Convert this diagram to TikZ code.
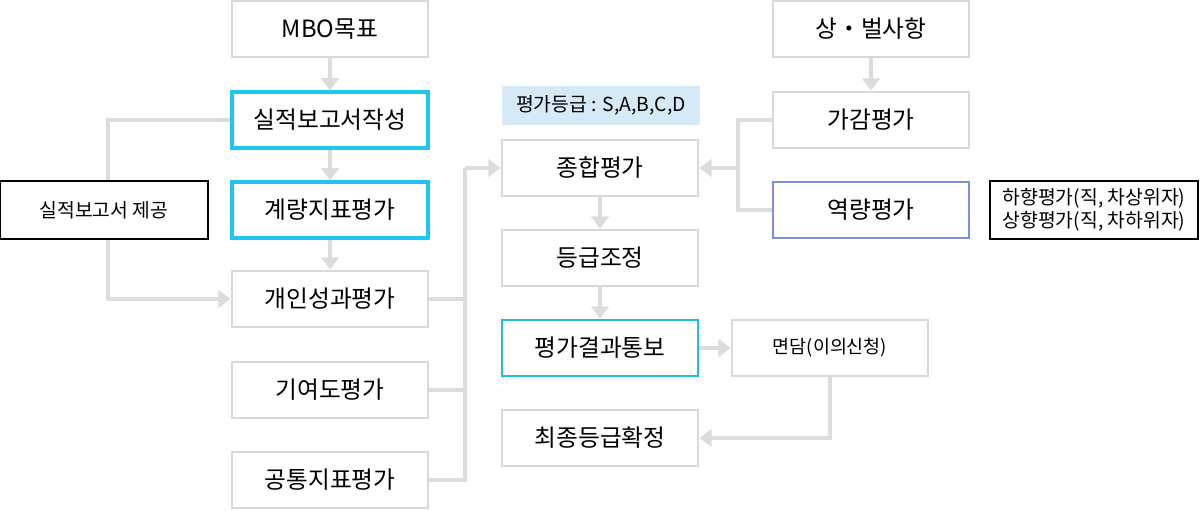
\documentclass[tikz,border=0pt]{standalone}
\usepackage{fontspec}
\setmainfont{Noto Sans CJK KR}
\usetikzlibrary{arrows.meta,positioning}
\definecolor{boxgray}{HTML}{D9D9D9}
\definecolor{linegray}{HTML}{DCDCDC}
\definecolor{skyline}{HTML}{1EC6F0}
\definecolor{tealline}{HTML}{22C0D2}
\definecolor{violetline}{HTML}{7D8FD8}
\definecolor{gradefill}{HTML}{D5E9F6}
\tikzset{
  stage/.style={
    % The shape:
    rectangle, minimum width=3.92cm, minimum height=1.12cm,
    % The border:
    line width=1.6pt, draw=boxgray, fill=white,
    font=\fontsize{13.5}{15}\selectfont},
  hilite/.style={stage, draw=skyline, line width=1.8pt},
  memo/.style={rectangle, minimum width=4.16cm, minimum height=1.16cm,
    draw=black, line width=0.6pt, fill=white, align=center,
    font=\fontsize{11}{13}\selectfont},
  line/.style={draw=linegray, line width=2.2pt,
    -{Triangle[width=10pt,length=7pt]}},
  plain/.style={draw=linegray, line width=2.2pt}
}
\begin{document}
\begin{tikzpicture}[x=0.2mm,y=-0.2mm]
\useasboundingbox (0,0) rectangle (1200,510);
% left column
\node [stage] (mbo) at (330,29) {MBO목표};
\node [hilite] (report) at (330,120) {실적보고서작성};
\node [hilite] (quant) at (330,210) {계량지표평가};
\node [stage] (indiv) at (330,299) {개인성과평가};
\node [stage] (contrib) at (330,390) {기여도평가};
\node [stage] (common) at (330,480) {공통지표평가};
% middle column
\node [rectangle, minimum width=3.96cm, minimum height=0.78cm, fill=gradefill,
  font=\fontsize{11}{12}\selectfont] (grade) at (601,105) {평가등급 : S,A,B,C,D};
\node [stage] (total) at (600,168) {종합평가};
\node [stage] (adjust) at (600,258) {등급조정};
\node [stage, draw=tealline] (notice) at (600,348) {평가결과통보};
\node [stage] (final) at (600,438) {최종등급확정};
\node [stage, font=\fontsize{10.5}{12}\selectfont] (talk) at (830,348) {면담(이의신청)};
% right column
\node [stage] (reward) at (871,29) {상・벌사항};
\node [stage] (plusminus) at (871,120) {가감평가};
\node [stage, draw=violetline] (compet) at (871,210) {역량평가};
% Draw edges
\path [line] (mbo) -- (report);
\path [line] (report) -- (quant);
\path [line] (quant) -- (indiv);
\path [line] (report.west) -| (108,299) -- (indiv.west);
\node [memo] (supply) at (104,210) {실적보고서 제공};
\path [plain] (indiv.east) -| (465,168);
\path [plain] (contrib.east) -| (465,300);
\path [plain] (common.east) -| (465,380);
\path [line] (465,168) -- (total.west);
\path [line] (total) -- (adjust);
\path [line] (adjust) -- (notice);
\path [line] (notice) -- (talk);
\path [line] (talk.south) |- (final.east);
\path [line] (reward) -- (plusminus);
\path [plain] (plusminus.west) -| (738,210) -- (compet.west);
\path [line] (738,168) -- (total.east);
\node [memo] (peer) at (1094,210) {하향평가(직, 차상위자)\\상향평가(직, 차하위자)};
\end{tikzpicture}
\end{document}
